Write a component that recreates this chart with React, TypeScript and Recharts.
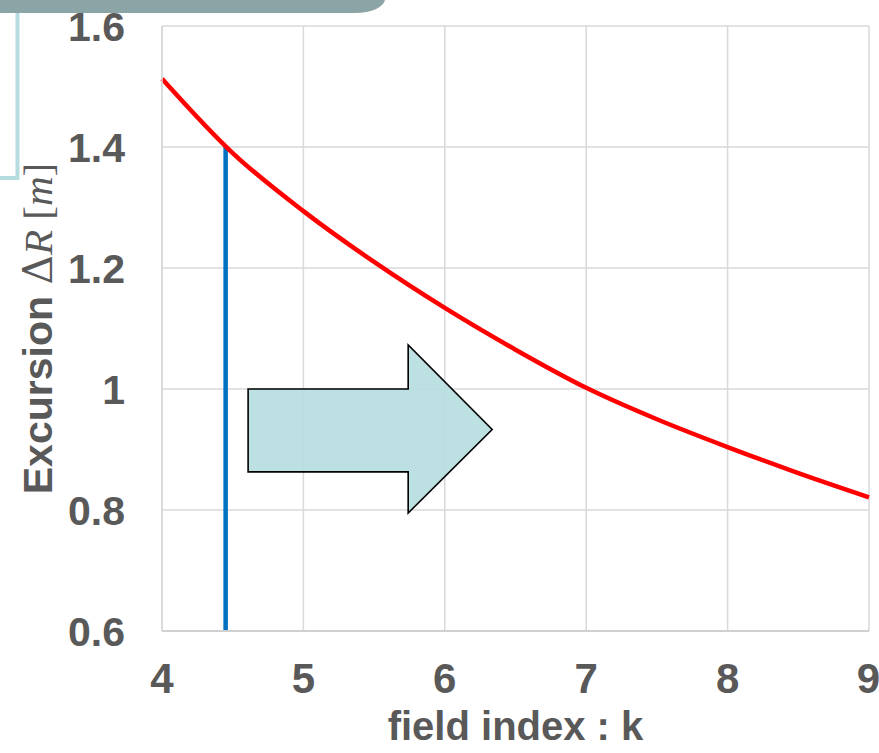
import React from 'react';
import { LineChart, Line, XAxis, YAxis, CartesianGrid, ReferenceLine, ReferenceArea } from 'recharts';

// field index k and the resulting excursion ΔR [m]
const fieldIndex = [4, 4.5, 5, 5.5, 6, 6.5, 7, 7.5, 8, 8.5, 9];
const excursion = [1.513, 1.39, 1.294, 1.21, 1.134, 1.065, 1.002, 0.95, 0.904, 0.861, 0.821];

const xTicks = [4, 5, 6, 7, 8, 9];
const yTicks = [0.6, 0.8, 1, 1.2, 1.4, 1.6];

// chosen operating point
const markerK = 4.45;
const markerRange = [0.6, 1.4];

// block arrow: left edge, head start, tip / head top, shaft top, tip, shaft bottom, head bottom
const arrowX = [4.609, 5.741, 6.335];
const arrowY = [1.073, 1.0, 0.933, 0.863, 0.795];

const W = 879;
const H = 753;
const GREY = '#595959';
const FONT = '"Liberation Sans", Arial, sans-serif';

const data = fieldIndex.map((k, i) => ({ k, r: excursion[i] }));

const ArrowShape = (props: any) => {
  const { x, y, width, height } = props;
  const yTop = arrowY[0];
  const ySpan = arrowY[0] - arrowY[4];
  const fy = (v: number) => y + ((yTop - v) / ySpan) * height;
  const headX = x + ((arrowX[1] - arrowX[0]) / (arrowX[2] - arrowX[0])) * width;
  const pts = [
    [x, fy(arrowY[1])],
    [headX, fy(arrowY[1])],
    [headX, fy(arrowY[0])],
    [x + width, fy(arrowY[2])],
    [headX, fy(arrowY[4])],
    [headX, fy(arrowY[3])],
    [x, fy(arrowY[3])],
  ];
  return (
    <polygon
      points={pts.map(p => p.join(',')).join(' ')}
      fill="#b7dde1"
      fillOpacity={0.92}
      stroke="#000"
      strokeWidth={1.6}
    />
  );
};

const YLabel = (props: any) => {
  const vb = props.viewBox || { x: 0, y: 26, width: 162, height: 605 };
  const cx = vb.x + 38;
  const cy = vb.y + vb.height / 2;
  return (
    <text
      x={cx}
      y={cy}
      transform={`rotate(-90, ${cx}, ${cy})`}
      textAnchor="middle"
      dominantBaseline="central"
      fill={GREY}
      fontSize={41}
      fontFamily={FONT}
      fontWeight="bold"
    >
      Excursion{' '}
      <tspan fontFamily='"DejaVu Serif", serif' fontWeight="normal">Δ</tspan>
      <tspan fontFamily='"Liberation Serif", serif' fontWeight="normal" fontStyle="italic">R</tspan>
      <tspan fontFamily='"Liberation Serif", serif' fontWeight="normal"> [</tspan>
      <tspan fontFamily='"Liberation Serif", serif' fontWeight="normal" fontStyle="italic">m</tspan>
      <tspan fontFamily='"Liberation Serif", serif' fontWeight="normal">]</tspan>
    </text>
  );
};

export default function App() {
  return (
    <div style={{ position: 'absolute', left: 0, top: 0, width: W, height: H, background: '#fff', overflow: 'hidden' }}>
      <LineChart width={W} height={H} data={data} margin={{ top: 26, right: 10, bottom: 32, left: 0 }}>
        <CartesianGrid stroke="#d9d9d9" strokeWidth={1.5} />
        <XAxis
          dataKey="k"
          type="number"
          domain={[4, 9]}
          ticks={xTicks}
          height={90}
          tickLine={false}
          tickSize={0}
          tickMargin={32}
          axisLine={{ stroke: '#d0d0d0', strokeWidth: 2 }}
          tick={{ fill: GREY, fontSize: 42, fontWeight: 'bold', fontFamily: FONT }}
          label={{ value: 'field index : k', position: 'bottom', offset: -9, fill: GREY, fontSize: 40, fontWeight: 'bold', fontFamily: FONT }}
        />
        <YAxis
          type="number"
          domain={[0.6, 1.6]}
          ticks={yTicks}
          width={162}
          tickLine={false}
          tickSize={0}
          tickMargin={37}
          axisLine={{ stroke: '#d9d9d9', strokeWidth: 1.5 }}
          tick={{ fill: GREY, fontSize: 41, fontWeight: 'bold', fontFamily: FONT }}
          label={{ content: YLabel }}
        />
        <ReferenceArea
          x1={arrowX[0]}
          x2={arrowX[2]}
          y1={arrowY[4]}
          y2={arrowY[0]}
          shape={ArrowShape}
        />
        <ReferenceLine
          segment={[{ x: markerK, y: markerRange[0] }, { x: markerK, y: markerRange[1] }]}
          stroke="#0070c0"
          strokeWidth={4.5}
        />
        <Line
          dataKey="r"
          type="monotone"
          stroke="#ff0000"
          strokeWidth={4.5}
          dot={false}
          isAnimationActive={false}
        />
      </LineChart>
      <svg width={W} height={H} style={{ position: 'absolute', left: 0, top: 0, pointerEvents: 'none' }}>
        <rect x={-10} y={10} width={27.5} height={168} fill="none" stroke="#b5dcdf" strokeWidth={4} />
        <rect x={-30} y={-30} width={415} height={43} rx={30} ry={14} fill="#8ba4a5" />
      </svg>
    </div>
  );
}
